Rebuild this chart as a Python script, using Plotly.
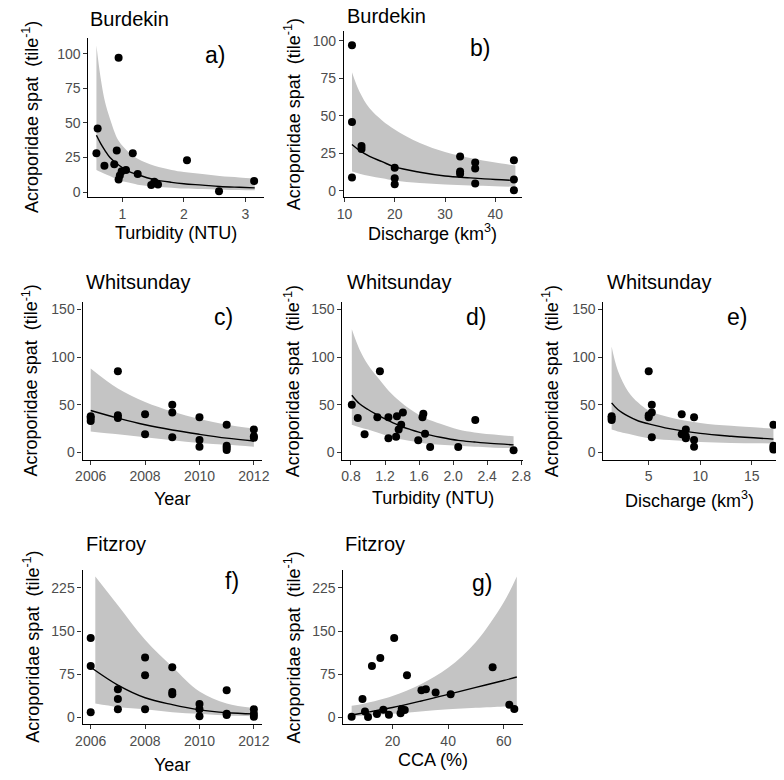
import plotly.graph_objects as go

W, H = 784, 780
FONT = "Liberation Sans, Arial, sans-serif"
RIBBON = "#C4C4C4"

# ---------------- data ----------------
# a) Burdekin - turbidity
a_x = [0.58, 0.60, 0.71, 0.87, 0.94, 0.91, 0.94, 0.96, 0.99, 1.06, 1.17, 1.25, 1.47, 1.52, 1.58, 2.05, 2.57, 3.14]
a_y = [28, 46, 19, 20, 97, 30, 9, 12, 15, 16, 28, 13, 5, 7.5, 5.5, 23, 0.5, 8]
a_cx = [0.58, 0.65, 0.72, 0.80, 0.94, 1.10, 1.25, 1.52, 1.80, 2.00, 2.30, 2.58, 2.90, 3.15]
a_fit = [41, 35, 30, 25, 19.5, 15, 12.5, 9, 7, 6, 5, 4, 3.4, 3]
a_hi = [106, 82, 65, 53, 37, 29, 24, 19, 16, 14.5, 13, 11.5, 10.5, 9.6]
a_lo = [16, 14.5, 13, 11.5, 8.5, 6.8, 5.3, 4, 3.1, 2.5, 2.1, 1.7, 1.4, 1.2]

# b) Burdekin - discharge
b_x = [11.5, 11.5, 11.5, 13.4, 13.4, 20, 20, 20, 33, 33, 33, 36, 36, 36, 43.7, 43.7, 43.7]
b_y = [97, 46, 9, 30, 28, 15.5, 8.4, 4.5, 23, 13, 11.5, 19, 15, 5, 20.5, 7.7, 0.5]
b_cx = [11.5, 13, 15, 17.5, 20, 25, 30, 35, 40, 44]
b_fit = [31, 27, 23, 19.5, 16, 12.5, 10, 8.7, 7.6, 7]
b_hi = [79, 66, 55, 47, 41, 32, 26, 22, 19, 17]
b_lo = [13, 11.5, 10, 8.5, 7, 5.3, 4.3, 3.6, 3.1, 2.8]

# c) Whitsunday - year
c_x = [2006, 2006, 2006, 2007, 2007, 2007, 2008, 2008, 2009, 2009, 2009,
       2010, 2010, 2010, 2011, 2011, 2011, 2011, 2012, 2012, 2012]
c_y = [38, 36, 33, 85, 39, 36, 40, 19, 50, 42, 16, 37, 13, 6, 29, 7, 5, 2.5, 24, 17, 15.5]
c_cx = [2006, 2007, 2008, 2009, 2010, 2011, 2012]
c_fit = [44, 36, 29, 23.5, 19, 15, 12]
c_hi = [88, 67, 53, 43, 35, 29, 25]
c_lo = [22, 19, 16, 12.8, 10, 8, 6]

# d) Whitsunday - turbidity
d_x = [0.81, 0.88, 0.96, 1.11, 1.14, 1.24, 1.24, 1.33, 1.34, 1.36, 1.39, 1.41,
       1.59, 1.64, 1.65, 1.67, 1.73, 2.06, 2.26, 2.71]
d_y = [50, 36, 19, 37, 85, 37, 15, 16.5, 38, 24, 29, 42, 12.7, 37, 40.5, 19.6, 5.8, 5.8, 34, 2.4]
d_cx = [0.81, 0.90, 1.00, 1.11, 1.25, 1.37, 1.50, 1.67, 1.85, 2.06, 2.25, 2.44, 2.71]
d_fit = [60, 51, 45, 39.5, 33, 28, 24, 19.5, 16, 12.7, 11, 9.5, 8]
d_hi = [129, 108, 92, 79, 64, 54, 45, 36, 30, 24, 21, 19, 17]
d_lo = [29, 26.5, 24, 21, 17, 14, 12, 9.5, 8, 7, 6, 5.3, 4.5]

# e) Whitsunday - discharge
e_x = [1.4, 1.4, 1.4, 5.0, 5.0, 5.0, 5.3, 5.3, 5.3, 8.2, 8.2, 8.6, 8.6, 8.6,
       9.4, 9.4, 9.4, 17.1, 17.1, 17.1, 17.1]
e_y = [38, 36, 34, 85, 39, 37, 50, 42, 16, 40, 19, 24, 17, 15, 37, 13, 6, 29, 7, 5, 3]
e_cx = [1.4, 2, 3, 4, 5, 7, 10, 13, 17.1]
e_fit = [52, 45, 38, 33, 30, 25, 20, 17, 14]
e_hi = [111, 86, 64, 52, 44, 37, 31, 28, 25]
e_lo = [24, 22, 19.5, 17, 15, 13, 11, 10, 9.5]

# f) Fitzroy - year
f_x = [2006, 2006, 2006, 2007, 2007, 2007, 2008, 2008, 2008, 2009, 2009, 2009,
       2010, 2010, 2010, 2011, 2011, 2011, 2012, 2012, 2012]
f_y = [138, 89, 9, 49, 32, 14, 104, 73, 14, 87, 44, 40, 23, 14, 2, 47, 6, 4, 14, 6, 1]
f_cx = [2006, 2007, 2008, 2009, 2010, 2011, 2012]
f_fit = [87, 56, 34, 22, 13, 8, 6]
f_rx = [2006.17, 2007, 2008, 2009, 2010, 2011, 2012]
f_hi = [245, 195, 135, 88, 45, 24, 16]
f_lo = [24, 18, 14, 9, 6, 3, 2]

# g) Fitzroy - CCA
g_x = [5.3, 9.2, 10.1, 11.2, 12.6, 14.4, 15.6, 16.7, 18.7, 20.6, 22.9, 23.3, 24.4,
       25.2, 30.4, 32.0, 35.5, 40.9, 56.0, 62.0, 63.8]
g_y = [1.2, 32, 10, 0.5, 89, 5.8, 103, 13, 4.6, 138, 7, 14.4, 12.7,
       73, 47, 49, 43, 40, 87, 22, 14.4]
g_cx = [5.3, 10, 20, 30, 40, 50, 60, 64.7]
g_fit = [4, 8, 17, 28, 40, 52, 64, 70]
g_hi = [20, 24, 37, 57, 86, 131, 200, 245]
g_lo = [1.2, 3, 6, 10, 14, 16.5, 19, 20]

YLABEL = "Acroporidae spat&nbsp; (tile<sup>-1</sup>)"

# ---------------- panels ----------------
panels = [
    dict(px=(83, 262), py=(37, 197), xr=[0.45, 3.30], yr=[-3.6, 111.5],
         xt=[1, 2, 3], yt=[0, 25, 50, 75, 100], x=a_x, y=a_y, cx=a_cx, fit=a_fit,
         rx=a_cx, hi=a_hi, lo=a_lo, title="Burdekin", tpos=(83, 18),
         xlab="Turbidity (NTU)", xlab_y=233, ylab_x=24, letter="a)", lpos=(2.51, 99)),
    dict(px=(343.5, 525), py=(30, 197), xr=[9.9, 45.3], yr=[-4.0, 106.6],
         xt=[10, 20, 30, 40], yt=[0, 25, 50, 75, 100], x=b_x, y=b_y, cx=b_cx, fit=b_fit,
         rx=b_cx, hi=b_hi, lo=b_lo, title="Burdekin", tpos=(345, 15),
         xlab="Discharge (km<sup>3</sup>)", xlab_y=233, ylab_x=292, letter="b)", lpos=(36.9, 95)),
    dict(px=(77, 260), py=(302.7, 461), xr=[2005.7, 2012.3], yr=[-7.5, 157.5],
         xt=[2006, 2008, 2010, 2012], yt=[0, 50, 100, 150], x=c_x, y=c_y, cx=c_cx, fit=c_fit,
         rx=c_cx, hi=c_hi, lo=c_lo, title="Whitsunday", tpos=(78, 282),
         xlab="Year", xlab_y=501, ylab_x=24, letter="c)", lpos=(2010.9, 142)),
    dict(px=(342, 526), py=(302.7, 461), xr=[0.70, 2.82], yr=[-7.5, 157.5],
         xt=[0.8, 1.2, 1.6, 2.0, 2.4, 2.8], yt=[0, 50, 100, 150], x=d_x, y=d_y, cx=d_cx, fit=d_fit,
         rx=d_cx, hi=d_hi, lo=d_lo, title="Whitsunday", tpos=(345, 282),
         xlab="Turbidity (NTU)", xlab_y=500, ylab_x=291, letter="d)", lpos=(2.27, 142), fmt=".1f"),
    dict(px=(608, 784), py=(302.7, 461), xr=[0.6, 17.35], yr=[-7.5, 157.5],
         xt=[5, 10, 15], yt=[0, 50, 100, 150], x=e_x, y=e_y, cx=e_cx, fit=e_fit,
         rx=e_cx, hi=e_hi, lo=e_lo, title="Whitsunday", tpos=(610, 282),
         xlab="Discharge (km<sup>3</sup>)", xlab_y=501, ylab_x=555, letter="e)", lpos=(13.6, 142)),
    dict(px=(77, 260), py=(572, 727), xr=[2005.7, 2012.3], yr=[-12.1, 256],
         xt=[2006, 2008, 2010, 2012], yt=[0, 75, 150, 225], x=f_x, y=f_y, cx=f_cx, fit=f_fit,
         rx=f_rx, hi=f_hi, lo=f_lo, title="Fitzroy", tpos=(78, 546),
         xlab="Year", xlab_y=768, ylab_x=25, letter="f)", lpos=(2011.2, 237)),
    dict(px=(343, 526), py=(572, 727), xr=[2.35, 66.9], yr=[-12.1, 256],
         xt=[20, 40, 60], yt=[0, 75, 150, 225], x=g_x, y=g_y, cx=g_cx, fit=g_fit,
         rx=g_cx, hi=g_hi, lo=g_lo, title="Fitzroy", tpos=(343, 546),
         xlab="CCA (%)", xlab_y=763, ylab_x=291, letter="g)", lpos=(52, 234)),
]

fig = go.Figure()
annotations = []
layout = {}

axis_common = dict(showline=True, linecolor="black", linewidth=1.1, ticks="outside",
                   ticklen=4, tickwidth=1.1, tickcolor="#333333", showgrid=False,
                   zeroline=False, fixedrange=True,
                   tickfont=dict(size=14, color="#4D4D4D", family=FONT))

for i, p in enumerate(panels, start=1):
    sx = "" if i == 1 else str(i)
    xa, ya = "x" + sx, "y" + sx
    fig.add_trace(go.Scatter(x=p["rx"], y=p["lo"], mode="lines", xaxis=xa, yaxis=ya,
                             line=dict(color="rgba(0,0,0,0)", width=0, shape="spline"),
                             hoverinfo="skip"))
    fig.add_trace(go.Scatter(x=p["rx"], y=p["hi"], mode="lines", xaxis=xa, yaxis=ya,
                             line=dict(color="rgba(0,0,0,0)", width=0, shape="spline"),
                             fill="tonexty", fillcolor=RIBBON, hoverinfo="skip"))
    fig.add_trace(go.Scatter(x=p["cx"], y=p["fit"], mode="lines", xaxis=xa, yaxis=ya,
                             line=dict(color="black", width=1.4, shape="spline")))
    fig.add_trace(go.Scatter(x=p["x"], y=p["y"], mode="markers", xaxis=xa, yaxis=ya,
                             marker=dict(color="black", size=8, line=dict(width=0))))
    xdom = [p["px"][0] / W, p["px"][1] / W]
    ydom = [1 - p["py"][1] / H, 1 - p["py"][0] / H]
    layout["xaxis" + sx] = dict(axis_common, domain=xdom, range=p["xr"], anchor=ya,
                                tickvals=p["xt"], tickformat=p.get("fmt", ""))
    layout["yaxis" + sx] = dict(axis_common, domain=ydom, range=p["yr"], anchor=xa,
                                tickvals=p["yt"])
    annotations.append(dict(text=p["title"], xref="paper", yref="paper",
                            x=p["tpos"][0] / W, y=1 - p["tpos"][1] / H,
                            xanchor="left", yanchor="middle", showarrow=False,
                            font=dict(size=20, color="black", family=FONT)))
    annotations.append(dict(text=p["xlab"], xref="paper", yref="paper",
                            x=(p["px"][0] + p["px"][1]) / 2 / W, y=1 - p["xlab_y"] / H,
                            xanchor="center", yanchor="middle", showarrow=False,
                            font=dict(size=18, color="black", family=FONT)))
    annotations.append(dict(text=YLABEL, xref="paper", yref="paper", textangle=-90,
                            x=p["ylab_x"] / W, y=1 - (p["py"][0] + p["py"][1]) / 2 / H,
                            xanchor="center", yanchor="middle", showarrow=False,
                            font=dict(size=18, color="black", family=FONT)))
    annotations.append(dict(text=p["letter"], xref=xa, yref=ya,
                            x=p["lpos"][0], y=p["lpos"][1],
                            xanchor="center", yanchor="middle", showarrow=False,
                            font=dict(size=23, color="black", family=FONT)))

fig.update_layout(**layout)
fig.update_layout(width=W, height=H, margin=dict(l=0, r=0, t=0, b=0),
                  paper_bgcolor="white", plot_bgcolor="white", showlegend=False,
                  annotations=annotations, font=dict(family=FONT))

fig.write_html("out.html")
